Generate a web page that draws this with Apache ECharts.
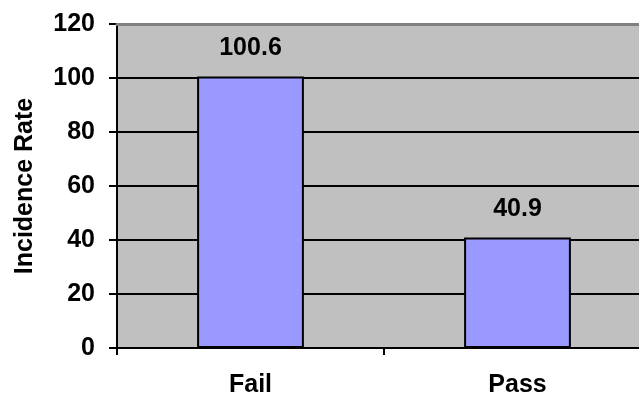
<!DOCTYPE html>
<html><head><meta charset="utf-8">
<script src="https://cdn.jsdelivr.net/npm/echarts@6/dist/echarts.min.js"></script>
<style>html,body{margin:0;padding:0;background:#fff}#c{width:639px;height:398px}</style>
</head><body><div id="c"></div>
<script>
const categories = ['Fail', 'Pass'];
const values = [100.6, 40.9];
const yTicks = [0, 20, 40, 60, 80, 100, 120];

const chart = echarts.init(document.getElementById('c'), null, {renderer: 'canvas'});
const font = {fontFamily: 'Liberation Sans, Arial, sans-serif', fontWeight: 'bold', fontSize: 25, color: '#000'};
chart.setOption({
  animation: false,
  grid: {left: 117, right: -12, top: 24, bottom: 50, outerBoundsMode: 'none', containLabel: false,
         backgroundColor: '#c0c0c0', show: true, borderWidth: 0},
  xAxis: [{
    type: 'category', data: categories,
    axisLine: {lineStyle: {color: '#000', width: 2}},
    axisTick: {show: true, length: 7, lineStyle: {color: '#000', width: 2}},
    axisLabel: Object.assign({margin: 25}, font)
  }, {
    type: 'category', data: categories, position: 'top', z: 10,
    axisLine: {show: true, lineStyle: {color: '#808080', width: 3}},
    axisTick: {show: false}, axisLabel: {show: false}
  }],
  yAxis: {
    type: 'value', min: yTicks[0], max: yTicks[yTicks.length - 1], interval: 20,
    name: 'Incidence Rate', nameLocation: 'middle', nameGap: 79, nameRotate: 90,
    nameTextStyle: font,
    axisLine: {show: true, lineStyle: {color: '#000', width: 2}},
    axisTick: {show: true, length: 8, lineStyle: {color: '#000', width: 2}},
    axisLabel: Object.assign({margin: 22}, font),
    splitLine: {show: true, lineStyle: {color: ['#000', '#000', '#000', '#000', '#000', '#000', '#808080'], width: 2}}
  },
  series: [{
    type: 'bar', data: values, barWidth: '40%',
    itemStyle: {color: '#9999ff', borderColor: '#000', borderWidth: 2},
    label: Object.assign({show: true, position: 'top', distance: 16, formatter: p => p.value.toFixed(1)}, font)
  }]
});
</script></body></html>
